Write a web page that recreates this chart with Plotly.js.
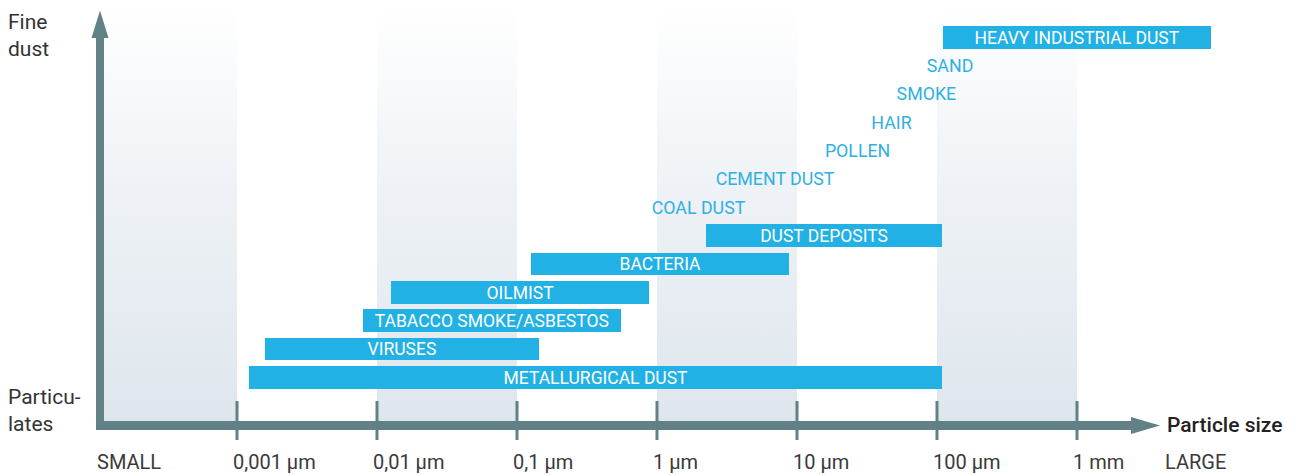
<!DOCTYPE html>
<html>
<head>
<meta charset="utf-8">
<script src="https://cdn.plot.ly/plotly-3.0.1.min.js"></script>
<style>
html,body{margin:0;padding:0;background:#fff;}
#chart{width:1296px;height:475px;}
</style>
</head>
<body>
<div id="chart"></div>
<script>
// ---- data (particle sizes in µm) ----
const barNames = ['HEAVY INDUSTRIAL DUST','DUST DEPOSITS','BACTERIA','OILMIST','TABACCO SMOKE/ASBESTOS','VIRUSES','METALLURGICAL DUST'];
const barRows  = [0, 7, 8, 9, 10, 11, 12];
const barMin   = [110, 2.24, 0.126, 0.0126, 0.0079, 0.00158, 0.00122];
const barMax   = [9060, 108.6, 8.77, 0.877, 0.553, 0.1436, 108.6];

const textNames = ['SAND','SMOKE','HAIR','POLLEN','CEMENT DUST','COAL DUST'];
const textRows  = [1, 2, 3, 4, 5, 6];
const textSize  = [124, 84, 47.3, 27.1, 6.97, 1.98];

const tickVals   = [0.001, 0.01, 0.1, 1, 10, 100, 1000];
const tickLabels = ['0,001 µm','0,01 µm','0,1 µm','1 µm','10 µm','100 µm','1 mm'];
const endLabels  = ['SMALL','LARGE'];
const axisTitleX = 'Particle size';
const axisTitleTop = 'Fine<br>dust';
const axisTitleBottom = 'Particu-<br>lates';

const bandStarts = [0.0001, 0.01, 1, 100];   // shaded decades

// ---- styling ----
const W = 1296, H = 475;
const BAR = '#21b1e5', TXT = '#2fb0e3', AXC = '#618187', LAB = '#3a3a3a';
const FONT = 'Roboto, "DejaVu Sans", sans-serif';
const px = x => x / W;
const py = y => 1 - y / H;
const TEXT_NUDGE = 0.07; // small vertical nudge so cap letters sit centred in rows

const traces = [];
// shaded bands (on base y axis, paper-like 0..1)
bandStarts.forEach(s => {
  traces.push({
    type: 'scatter', mode: 'lines', xaxis: 'x', yaxis: 'y',
    x: [s, s * 10, s * 10, s, s], y: [py(421), py(421), py(4), py(4), py(421)],
    fill: 'toself', line: {width: 0, color: 'rgba(0,0,0,0)'},
    fillgradient: {type: 'vertical', start: py(421), stop: py(4),
      colorscale: [[0, 'rgba(222,230,237,1)'], [0.55, 'rgba(238,242,246,1)'], [1, 'rgba(255,255,255,1)']]},
    hoverinfo: 'skip', showlegend: false
  });
});

// bars
traces.push({
  type: 'bar', orientation: 'h', xaxis: 'x', yaxis: 'y2',
  y: barRows, base: barMin, x: barMax.map((v, i) => v - barMin[i]),
  width: 0.8, marker: {color: BAR, line: {width: 0}},
  hoverinfo: 'skip', showlegend: false
});
// bar labels
traces.push({
  type: 'scatter', mode: 'text', xaxis: 'x', yaxis: 'y2',
  x: barMin.map((v, i) => Math.sqrt(v * barMax[i])), y: barRows.map(r => r + TEXT_NUDGE),
  text: barNames, textposition: 'middle center',
  textfont: {family: FONT, size: 17.5, color: '#ffffff'},
  hoverinfo: 'skip', showlegend: false, cliponaxis: false
});
// text-only items
traces.push({
  type: 'scatter', mode: 'text', xaxis: 'x', yaxis: 'y2',
  x: textSize, y: textRows.map(r => r + TEXT_NUDGE), text: textNames, textposition: 'middle center',
  textfont: {family: FONT, size: 17.8, color: TXT},
  hoverinfo: 'skip', showlegend: false, cliponaxis: false
});

const shapes = [];
// vertical axis shaft + head
shapes.push({type: 'rect', xref: 'paper', yref: 'paper', x0: px(96), x1: px(104), y0: py(430), y1: py(37), fillcolor: AXC, line: {width: 0}, layer: 'above'});
shapes.push({type: 'path', xref: 'paper', yref: 'paper',
  path: `M ${px(91.5)} ${py(38)} L ${px(100)} ${py(10.5)} L ${px(108.5)} ${py(38)} Z`, fillcolor: AXC, line: {width: 0}, layer: 'above'});
// horizontal axis shaft + head
shapes.push({type: 'rect', xref: 'paper', yref: 'paper', x0: px(96), x1: px(1132), y0: py(430), y1: py(421), fillcolor: AXC, line: {width: 0}, layer: 'above'});
shapes.push({type: 'path', xref: 'paper', yref: 'paper',
  path: `M ${px(1131)} ${py(417)} L ${px(1160)} ${py(425.5)} L ${px(1131)} ${py(434)} Z`, fillcolor: AXC, line: {width: 0}, layer: 'above'});
// tick marks
tickVals.forEach(v => {
  shapes.push({type: 'line', xref: 'x', yref: 'paper', x0: v, x1: v,
    y0: py(401), y1: py(440), line: {color: AXC, width: 3}, layer: 'above'});
});

const annotations = [];
tickVals.forEach((v, i) => {
  annotations.push({xref: 'x', yref: 'paper', x: Math.log10(v), y: py(462), text: tickLabels[i],
    showarrow: false, xanchor: 'left', xshift: -6, yanchor: 'middle', font: {family: FONT, size: 20, color: LAB}});
});
annotations.push({xref: 'paper', yref: 'paper', x: px(95), y: py(462), text: endLabels[0], showarrow: false,
  xanchor: 'left', yanchor: 'middle', font: {family: FONT, size: 20, color: LAB}});
annotations.push({xref: 'paper', yref: 'paper', x: px(1163), y: py(462), text: endLabels[1], showarrow: false,
  xanchor: 'left', yanchor: 'middle', font: {family: FONT, size: 20, color: LAB}});
annotations.push({xref: 'paper', yref: 'paper', x: px(1165), y: py(425), text: axisTitleX, showarrow: false,
  xanchor: 'left', yanchor: 'middle', font: {family: FONT, size: 21, weight: 500, color: '#222'}});
annotations.push({xref: 'paper', yref: 'paper', x: px(6), y: py(35), text: axisTitleTop, showarrow: false,
  xanchor: 'left', yanchor: 'middle', align: 'left', font: {family: FONT, size: 21, color: '#333'}});
annotations.push({xref: 'paper', yref: 'paper', x: px(6), y: py(410), text: axisTitleBottom, showarrow: false,
  xanchor: 'left', yanchor: 'middle', align: 'left', font: {family: FONT, size: 21, color: '#333'}});

const rowPx = 28.33, row0 = 37.3;
const layout = {
  width: W, height: H, margin: {l: 0, r: 0, t: 0, b: 0},
  paper_bgcolor: '#fff', plot_bgcolor: 'rgba(0,0,0,0)',
  xaxis: {type: 'log', range: [-3 - 237 / 140, -3 + (W - 237) / 140], visible: false, fixedrange: true},
  yaxis: {range: [0, 1], visible: false, fixedrange: true},
  yaxis2: {range: [(H - row0) / rowPx, -row0 / rowPx], overlaying: 'y', visible: false, fixedrange: true},
  shapes: shapes, annotations: annotations, showlegend: false, bargap: 0
};
Plotly.newPlot('chart', traces, layout, {displayModeBar: false, staticPlot: true});
</script>
</body>
</html>
